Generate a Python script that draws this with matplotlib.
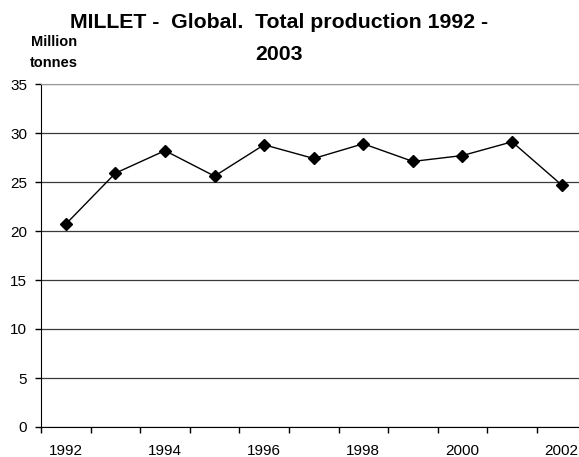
"""Millet global production 1992-2003, Excel style line chart."""

import matplotlib
matplotlib.use("Agg")
import matplotlib.pyplot as plt
from matplotlib.ticker import FixedLocator, NullFormatter

years = [1992, 1993, 1994, 1995, 1996, 1997, 1998, 1999, 2000, 2001, 2002]
production = [20.7, 25.9, 28.2, 25.6, 28.8, 27.4, 28.9, 27.1, 27.7, 29.1, 24.7]
category_years = list(range(1992, 2004))
label_years = [1992, 1994, 1996, 1998, 2000, 2002]
y_ticks = [0, 5, 10, 15, 20, 25, 30, 35]

plt.rcParams["font.family"] = ["Liberation Sans", "DejaVu Sans"]

W, H = 579, 457
fig = plt.figure(figsize=(W / 100, H / 100), dpi=100)
fig.patch.set_facecolor("white")

# plot area runs off the right edge, as in the cropped original
ax = fig.add_axes([41 / W, 30 / H, 595 / W, 343 / H])

ax.plot(years, production, color="black", lw=1.0, marker="D",
        markersize=6.5, markerfacecolor="black", markeredgecolor="black",
        zorder=3, clip_on=False)

ax.set_xlim(category_years[0] - 0.5, category_years[-1] + 0.5)
ax.set_ylim(0, 35)

ax.set_yticks(y_ticks)
ax.set_yticklabels([str(v) for v in y_ticks], fontsize=11)
ax.grid(axis="y", color="#3a3a3a", lw=0.9)
ax.set_axisbelow(True)

# tick marks between categories, labels centred on every other year
ax.xaxis.set_major_locator(FixedLocator([y - 0.5 for y in category_years] + [category_years[-1] + 0.5]))
ax.xaxis.set_major_formatter(NullFormatter())
ax.xaxis.set_minor_locator(FixedLocator(label_years))
ax.set_xticklabels([str(y) for y in label_years], minor=True, fontsize=11)
ax.tick_params(axis="x", which="major", direction="out", length=4, width=1)
ax.tick_params(axis="x", which="minor", length=0, pad=12)
ax.tick_params(axis="y", direction="out", length=4, width=1, pad=6)

ax.spines["left"].set_color("black")
ax.spines["bottom"].set_color("black")
ax.spines["top"].set_color("#9a9a9a")
ax.spines["right"].set_visible(False)

fig.text(279 / W, 1 - 23 / H, "MILLET -  Global.  Total production 1992 -",
         ha="center", va="center", fontsize=15.3, fontweight="bold")
fig.text(279 / W, 1 - 54 / H, "2003",
         ha="center", va="center", fontsize=15.3, fontweight="bold")
fig.text(54 / W, 1 - 42 / H, "Million", ha="center", va="center",
         fontsize=10.5, fontweight="bold")
fig.text(54 / W, 1 - 63 / H, "tonnes", ha="center", va="center",
         fontsize=10.5, fontweight="bold")

fig.savefig("out.png", dpi=100)
